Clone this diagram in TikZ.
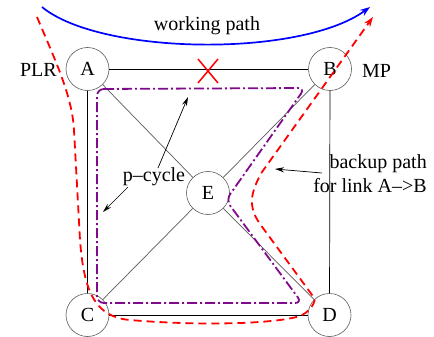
\documentclass[tikz,border=0pt]{standalone}
\usepackage{fontspec}
\setmainfont{Liberation Serif}
\usetikzlibrary{arrows.meta,calc}
\definecolor{pcyc}{RGB}{128,10,140}
\definecolor{edgegray}{RGB}{90,90,90}
\tikzset{
  netnode/.style={circle,draw=edgegray,line width=0.6pt,minimum size=43pt,inner sep=0pt,font=\fontsize{20}{24}\selectfont},
  lbl/.style={font=\fontsize{20}{24}\selectfont,inner sep=0pt},
  sqedge/.style={black,line width=0.7pt},
  diag/.style={edgegray,line width=0.7pt},
  backup/.style={red,line width=1.8pt,dash pattern=on 8pt off 5pt},
  pcycle/.style={pcyc,line width=1.8pt,dash pattern=on 10pt off 3pt on 2pt off 3pt},
  working/.style={blue,line width=1.7pt,-{Stealth[length=10pt,width=7pt]}},
  pointer/.style={black,line width=0.7pt,-{Stealth[length=9pt,width=5pt]}},
  failx/.style={red,line width=1.5pt}
}
\begin{document}
\begin{tikzpicture}[x=1pt,y=-1pt]
\useasboundingbox (0,0) rectangle (434,337);
% nodes
\node[netnode] (A) at (87.5,69) {A};
\node[netnode] (B) at (330,69) {B};
\node[netnode] (C) at (87.5,315) {C};
\node[netnode] (D) at (329.5,315) {D};
\node[netnode] (E) at (208,193) {E};
% edges
\draw[sqedge] (A) -- (B);
\draw[sqedge] (A) -- (C);
\draw[sqedge] (B) -- (D);
\draw[sqedge] (C) -- (D);
\draw[diag] (A) -- (E);
\draw[diag] (B) -- (E);
\draw[diag] (C) -- (E);
\draw[diag] (D) -- (E);
% p-cycle
\draw[pcycle,rounded corners=7pt] (97,89) -- (305,88) -- (226,200) -- (302,303) -- (97,303) -- cycle;
% failure X
\coordinate (X) at (208,71);
\draw[failx] ($(X)+(-10,-12)$) -- ($(X)+(10,12)$);
\draw[failx] ($(X)+(10,-12)$) -- ($(X)+(-10,12)$);
% working path
\coordinate (wstart) at (42,7);
\coordinate (wend) at (370,7);
\draw[working] (wstart) .. controls (100,55) and (300,58) .. (wend);
\node[lbl] (wlbl) at (207,26) {working path};
% backup path
\coordinate (bstart) at (37,17);
\coordinate (bend) at (373,17);
\draw[backup,-{Stealth[length=10pt,width=7pt]}] (bstart) .. controls (55,60) and (72,95) .. (74,130)
  -- (80,240) .. controls (84,292) and (95,317) .. (130,320)
  .. controls (200,326) and (275,324) .. (300,316)
  .. controls (309,312) and (314,305) .. (315,299)
  -- (260,224) .. controls (248,207) and (250,193) .. (262,172) -- (bend);
% labels
\node[lbl,anchor=east] (plr) at (57,70) {PLR};
\node[lbl,anchor=west] (mp) at (362,71) {MP};
\node[lbl] (pc) at (154,177) {p--cycle};
\node[lbl,align=right,anchor=east] (bk) at (427,174) {backup path\\for link A-->B};
% pointers
\coordinate (pc1s) at (158,168);
\coordinate (pc1e) at (188,97);
\coordinate (pc2s) at (128,187);
\coordinate (pc2e) at (103,212);
\coordinate (bks) at (322,173);
\coordinate (bke) at (275,169);
\draw[pointer] (pc1s) -- (pc1e);
\draw[pointer] (pc2s) -- (pc2e);
\draw[pointer] (bks) -- (bke);
\end{tikzpicture}
\end{document}
